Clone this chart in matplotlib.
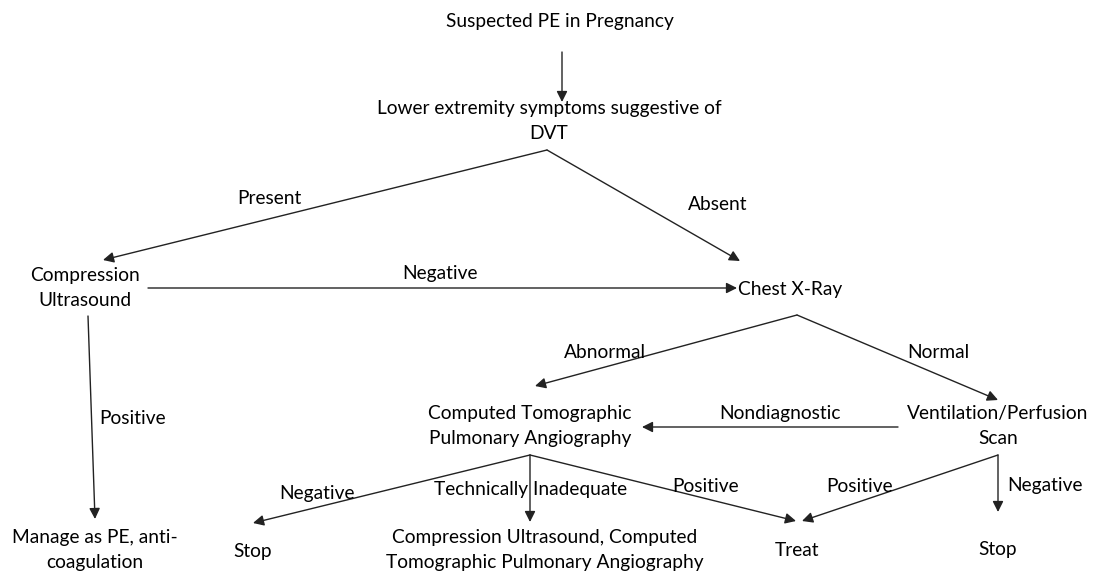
import matplotlib
matplotlib.use('Agg')
import matplotlib.pyplot as plt

W, H = 1096, 574
DPI = 100
FONT = ['Lato', 'DejaVu Sans']
FS = 13.8

# node texts
node_texts = ['Suspected PE in Pregnancy',
              'Lower extremity symptoms suggestive of\nDVT',
              'Compression\nUltrasound',
              'Chest X-Ray',
              'Computed Tomographic\nPulmonary Angiography',
              'Ventilation/Perfusion\nScan',
              'Manage as PE, anti-\ncoagulation',
              'Stop',
              'Compression Ultrasound, Computed\nTomographic Pulmonary Angiography',
              'Treat',
              'Stop']
# layout (pixel centres)
node_xy = [(560, 22), (549, 121), (85, 288), (790, 289), (530, 426),
           (998, 426), (95, 550), (253, 551), (545, 550), (797, 550),
           (998, 550)]

# edges: start point, end point, label, label position
edge_from = [(562, 52), (547, 150), (547, 150), (148, 288), (88, 316),
             (797, 315), (797, 315), (898, 427), (530, 455), (530, 455),
             (530, 455), (998, 455), (998, 455)]
edge_to = [(562, 102), (103, 260), (740, 261), (737, 288), (95, 519),
           (535, 386), (998, 400), (642, 427), (253, 523), (530, 522),
           (796, 521), (802, 521), (998, 512)]
edge_labels = ['', 'Present', 'Absent', 'Negative', 'Positive',
               'Abnormal', 'Normal', 'Nondiagnostic', 'Negative',
               'Technically Inadequate', 'Positive', 'Positive', 'Negative']
edge_label_xy = [None, (269, 198), (718, 205), (440, 273), (133, 419),
                 (605, 352), (938, 352), (780, 413), (317, 493),
                 (531, 490), (706, 486), (860, 486), (1045, 486)]

fig = plt.figure(figsize=(W / DPI, H / DPI), dpi=DPI)
ax = fig.add_axes([0, 0, 1, 1])
ax.set_xlim(0, W)
ax.set_ylim(H, 0)
ax.set_axis_off()

for txt, (x, y) in zip(node_texts, node_xy):
    ax.text(x, y, txt, ha='center', va='center', fontsize=FS,
            family=FONT, color='black', linespacing=1.6)

for p0, p1, lab, lxy in zip(edge_from, edge_to, edge_labels, edge_label_xy):
    ax.annotate('', xy=p1, xytext=p0,
                arrowprops=dict(arrowstyle='-|>', color='#222222', lw=1.0,
                                mutation_scale=16, shrinkA=0, shrinkB=0))
    if lab:
        ax.text(lxy[0], lxy[1], lab, ha='center', va='center', fontsize=FS,
                family=FONT, color='black')

fig.savefig('out.png', dpi=DPI)
